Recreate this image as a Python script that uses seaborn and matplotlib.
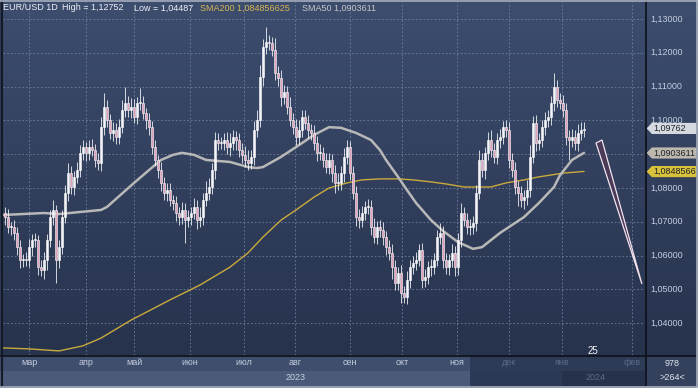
import numpy as np
import pandas as pd
import seaborn as sns
import matplotlib.pyplot as plt
import matplotlib.transforms as mtransforms
from matplotlib.patches import Rectangle, Polygon
from matplotlib.colors import LinearSegmentedColormap

# EUR/USD daily closes (one candle per position)
close = [
    1.0714, 1.0685, 1.0685, 1.0667, 1.0625, 1.0587, 1.0590, 1.0587, 1.0625, 1.0646,
    1.0646, 1.0566, 1.0557, 1.0587, 1.0646, 1.0714, 1.0735, 1.0587, 1.0625, 1.0714,
    1.0785, 1.0844, 1.0803, 1.0833, 1.0853, 1.0904, 1.0921, 1.0904, 1.0921, 1.0912,
    1.0883, 1.0874, 1.0980, 1.1040, 1.1001, 1.0963, 1.0972, 1.0951, 1.0980, 1.1031,
    1.1051, 1.1031, 1.1040, 1.1010, 1.1051, 1.1051, 1.1022, 1.1001, 1.0980, 1.0921,
    1.0883, 1.0853, 1.0815, 1.0785, 1.0794, 1.0764, 1.0756, 1.0726, 1.0714, 1.0735,
    1.0705, 1.0714, 1.0726, 1.0744, 1.0705, 1.0714, 1.0764, 1.0785, 1.0803, 1.0853,
    1.0942, 1.0933, 1.0933, 1.0942, 1.0921, 1.0933, 1.0951, 1.0942, 1.0912, 1.0898,
    1.0883, 1.0874, 1.0892, 1.0972, 1.1001, 1.1128, 1.1217, 1.1232, 1.1229, 1.1208,
    1.1140, 1.1125, 1.1069, 1.1084, 1.1040, 1.1001, 1.0980, 1.0951, 1.0972, 1.1010,
    1.0992, 1.0972, 1.0963, 1.0933, 1.0904, 1.0904, 1.0883, 1.0862, 1.0883, 1.0844,
    1.0815, 1.0815, 1.0844, 1.0892, 1.0921, 1.0844, 1.0785, 1.0714, 1.0705, 1.0726,
    1.0744, 1.0744, 1.0685, 1.0655, 1.0685, 1.0676, 1.0655, 1.0625, 1.0608, 1.0566,
    1.0519, 1.0549, 1.0489, 1.0478, 1.0528, 1.0566, 1.0578, 1.0587, 1.0617, 1.0528,
    1.0537, 1.0566, 1.0566, 1.0587, 1.0655, 1.0667, 1.0587, 1.0566, 1.0587, 1.0608,
    1.0566, 1.0646, 1.0726, 1.0705, 1.0685, 1.0685, 1.0696, 1.0785, 1.0883, 1.0853,
    1.0904, 1.0942, 1.0912, 1.0892, 1.0942, 1.0951, 1.0980, 1.0972, 1.0883, 1.0853,
    1.0803, 1.0785, 1.0764, 1.0773, 1.0794, 1.0892, 1.0992, 1.0933, 1.0942, 1.0980,
    1.1001, 1.1010, 1.1051, 1.1099, 1.1060, 1.1051, 1.1031, 1.0951, 1.0942, 1.0951,
    1.0933, 1.0963, 1.0972, 1.0976,
]
first_open = 1.0725

# wick lengths beyond the body, in pips
wick_hi = [
    20, 25, 15, 20, 18, 22, 15, 20, 25, 18, 22, 15, 20, 25, 18, 20, 30, 15, 20, 22,
    25, 30, 20, 18, 25, 22, 20, 15, 20, 25, 18, 22, 30, 40, 20, 18, 22, 20, 25, 30,
    48, 20, 25, 22, 18, 45, 20, 15, 22, 18, 20, 15, 25, 18, 20, 22, 15, 20, 18, 25,
    20, 22, 18, 25, 20, 30, 22, 35, 28, 20, 25, 22, 18, 20, 25, 30, 20, 18, 22, 20,
    25, 30, 20, 25, 30, 35, 25, 43, 20, 18, 35, 20, 25, 22, 18, 30, 20, 25, 30, 22,
    20, 25, 18, 22, 20, 25, 18, 22, 20, 18, 25, 30, 20, 25, 21, 18, 20, 22, 25, 20,
    18, 22, 20, 25, 18, 20, 22, 18, 20, 25, 20, 18, 22, 20, 25, 22, 20, 25, 18, 20,
    22, 18, 25, 20, 22, 30, 20, 22, 18, 25, 20, 22, 30, 18, 20, 22, 20, 25, 30, 20,
    18, 25, 30, 20, 22, 25, 18, 20, 22, 20, 25, 18, 22, 20, 30, 35, 20, 25, 22, 20,
    25, 22, 20, 41, 20, 22, 25, 20, 22, 25, 20, 25, 22, 20,
]
wick_lo = [
    22, 18, 25, 20, 22, 25, 20, 18, 22, 25, 20, 22, 18, 25, 30, 20, 22, 68, 25, 20,
    18, 22, 20, 25, 18, 20, 22, 25, 20, 18, 22, 20, 25, 22, 20, 18, 25, 22, 20, 18,
    22, 20, 25, 18, 22, 20, 18, 25, 22, 20, 18, 22, 25, 20, 22, 18, 20, 25, 22, 20,
    68, 20, 22, 18, 25, 20, 22, 18, 20, 22, 25, 20, 18, 22, 20, 25, 22, 30, 20, 25,
    22, 20, 18, 25, 22, 20, 25, 20, 22, 18, 20, 22, 25, 20, 22, 18, 20, 25, 22, 20,
    18, 25, 22, 20, 25, 22, 20, 18, 22, 25, 30, 22, 20, 25, 22, 20, 18, 25, 22, 20,
    22, 20, 25, 18, 22, 20, 25, 22, 20, 35, 22, 20, 29, 18, 22, 25, 20, 22, 18, 25,
    20, 22, 25, 20, 18, 22, 25, 20, 22, 20, 25, 22, 20, 18, 22, 25, 20, 22, 18, 20,
    25, 22, 20, 18, 22, 25, 20, 22, 25, 20, 22, 38, 20, 25, 22, 20, 18, 25, 22, 20,
    22, 20, 25, 22, 20, 18, 22, 25, 59, 22, 20, 25, 22, 20,
]

# moving averages (candle position, value)
sma50_x = [-1, 13, 18, 32, 34, 43, 48, 52, 56, 59, 63, 67, 75, 81, 84, 86, 92, 97, 103, 108,
           112, 117, 122, 125, 127, 131, 134, 137, 142, 146, 151, 156, 159, 165, 173, 178,
           183, 185, 189, 193]
sma50_y = [1.0720, 1.0726, 1.0723, 1.0735, 1.0744, 1.0815, 1.0853, 1.0883, 1.0898, 1.0904,
           1.0898, 1.0883, 1.0877, 1.0862, 1.0859, 1.0862, 1.0892, 1.0921, 1.0957, 1.0980,
           1.0978, 1.0963, 1.0942, 1.0912, 1.0883, 1.0833, 1.0794, 1.0756, 1.0705, 1.0673,
           1.0640, 1.0620, 1.0625, 1.0667, 1.0714, 1.0756, 1.0803, 1.0838, 1.0883, 1.0904]
sma200_x = [-1, 8, 18, 26, 32, 42, 55, 65, 75, 81, 86, 92, 97, 103, 108, 114, 119, 125, 131,
            136, 142, 147, 153, 162, 167, 173, 178, 186, 193]
sma200_y = [1.0327, 1.0324, 1.0318, 1.0333, 1.0356, 1.0409, 1.0469, 1.0513, 1.0566, 1.0608,
            1.0655, 1.0705, 1.0735, 1.0773, 1.0800, 1.0815, 1.0824, 1.0827, 1.0827, 1.0824,
            1.0818, 1.0812, 1.0803, 1.0803, 1.0815, 1.0824, 1.0833, 1.0844, 1.0849]

month_labels = ['мар', 'апр', 'май', 'июн', 'июл', 'авг', 'сен', 'окт', 'ноя', 'дек', 'янв', 'фев']
month_pos = [8, 27, 43, 61.7, 79.7, 96.7, 115, 132.3, 150.7, 168, 185.7, 209]
year_labels = ['2023', '2024']
year_pos = [96.7, 196.7]
# 1,09000 sits under the SMA50 tag in the original, so it is not printed
price_levels = [1.04, 1.05, 1.06, 1.07, 1.08, 1.09, 1.10, 1.11, 1.12, 1.13]
hidden_levels = [1.09]

last_close = 1.09762
sma50_last = 1.0903611
sma200_last = 1.084856625
high_val = 1.12752
low_val = 1.04487

# hand-drawn pen stroke on the right
pen_x = [197, 199, 212.3]
pen_y = [1.0933, 1.0942, 1.0516]

# ---- frame ----
W, H = 698, 388
sns.set_theme(style="dark")
plt.rcParams['font.family'] = ['Liberation Sans', 'DejaVu Sans']

fig = plt.figure(figsize=(W / 100, H / 100), dpi=100)
fig.patch.set_facecolor('#2e3b57')

xlim = (-0.67, 213.33)
ylim = (1.03059, 1.13503)
bg_cmap = LinearSegmentedColormap.from_list('bg', ['#3d4d6e', '#27334d'])
grad = np.linspace(0, 1, 256).reshape(-1, 1)

ax = fig.add_axes([3 / W, 33 / H, 642 / W, 353 / H])
ax.imshow(grad, cmap=bg_cmap, extent=[xlim[0], xlim[1], ylim[0], ylim[1]],
          aspect='auto', origin='upper', zorder=0)
ax.set_xlim(*xlim)
ax.set_ylim(*ylim)

df = pd.DataFrame({'close': close, 'whi': wick_hi, 'wlo': wick_lo})
df['open'] = df['close'].shift(1).fillna(first_open)
df['top'] = df[['open', 'close']].max(axis=1)
df['bot'] = df[['open', 'close']].min(axis=1)
df['high'] = df['top'] + df['whi'] / 10000
df['low'] = df['bot'] - df['wlo'] / 10000
df['x'] = np.arange(len(df))
up = df['close'] >= df['open']

ax.vlines(df['x'], df['low'], df['high'], color='white', lw=0.55, zorder=3)
ax.bar(df['x'][up], (df['top'] - df['bot'])[up].clip(lower=0.0002), bottom=df['bot'][up],
       width=0.55, color='#f4f4f8', edgecolor='white', linewidth=0.4, zorder=4)
ax.bar(df['x'][~up], (df['top'] - df['bot'])[~up].clip(lower=0.0002), bottom=df['bot'][~up],
       width=0.55, color='#e2a0ba', edgecolor='white', linewidth=0.4, zorder=4)

sns.lineplot(x=sma200_x, y=sma200_y, ax=ax, color='#c9aa3c', lw=1.0, zorder=2)
sns.lineplot(x=sma50_x, y=sma50_y, ax=ax, color='#b8b8b8', lw=1.8, zorder=2,
             solid_capstyle='round')

ax.add_patch(Polygon(list(zip(pen_x, pen_y)), closed=True, facecolor='#4a3a58',
                     edgecolor='#f2e2ee', lw=0.9, zorder=5))

ax.set_xticks(month_pos)
ax.set_xticklabels(month_labels)
ax.set_yticks(price_levels)
ax.set_yticklabels([])
ax.tick_params(axis='x', length=0, pad=2.5, labelsize=6.5)
ax.tick_params(axis='y', length=0)
for lab, pos in zip(ax.get_xticklabels(), month_pos):
    lab.set_color('#c4cde0' if pos < 160 else '#5b6a88')
ax.grid(True, color='#7c8bab', lw=0.6, linestyle=(0, (2, 2.5)), alpha=0.85)
ax.set_axisbelow(True)
for s in ax.spines.values():
    s.set_visible(False)
ax.set_xlabel('')
ax.set_ylabel('')

trans = mtransforms.blended_transform_factory(ax.transData, ax.transAxes)
for lab, pos, col in zip(year_labels, year_pos, ['#c4cde0', '#5b6a88']):
    ax.text(pos, -0.065, lab, transform=trans, ha='center', va='center',
            fontsize=6.5, color=col, clip_on=False)

# ---- right price scale ----
axr = fig.add_axes([645 / W, 33 / H, 53 / W, 353 / H])
axr.imshow(grad, cmap=bg_cmap, extent=[0, 1, ylim[0], ylim[1]],
           aspect='auto', origin='upper', zorder=0)
axr.set_xlim(0, 1)
axr.set_ylim(*ylim)
axr.axis('off')
for lv in price_levels:
    if lv in hidden_levels:
        continue
    axr.text(0.10, lv, f'{lv:.5f}'.replace('.', ','), fontsize=6.5, color='#c4cde0',
             va='center', ha='left', zorder=2)

tags = [(last_close, '1,09762', '#d5d9e0'),
        (sma50_last, '1,0903611', '#bdb7ad'),
        (sma200_last, '1,0848566', '#d8c23c')]
h = 0.00165
for val, txt, col in tags:
    axr.add_patch(Polygon([(0.03, val), (0.13, val + h), (0.97, val + h),
                           (0.97, val - h), (0.13, val - h)], closed=True,
                          facecolor=col, edgecolor='none', zorder=3))
    axr.text(0.15, val, txt, fontsize=6.5, color='#1e222a', va='center', ha='left',
             zorder=4, clip_on=True)

# ---- pixel-coordinate layers: bottom bar, header, borders ----
px = fig.add_axes([0, 0, 1, 1], facecolor='none')
px.set_xlim(0, W)
px.set_ylim(H, 0)
px.axis('off')
px.set_zorder(-1)

for (x0, y0, w, hgt, col) in [(0, 355, 470, 16, '#3f4e6c'), (0, 371, 470, 15, '#4b5a78'),
                              (470, 355, 175, 16, '#2e3b57'), (470, 371, 92, 15, '#2c3955'),
                              (562, 371, 83, 15, '#26324c'), (645, 355, 53, 31, '#33415d')]:
    px.add_patch(Rectangle((x0, y0), w, hgt, facecolor=col, edgecolor='none'))

top = fig.add_axes([0, 0, 1, 1], facecolor='none')
top.set_xlim(0, W)
top.set_ylim(H, 0)
top.axis('off')
top.hlines(355.5, 0, W, color='#0c1018', lw=1.2)
top.vlines(645.5, 0, 386, color='#0c1018', lw=1.2)
top.vlines(1.5, 0, 386, color='#141a26', lw=1.5)
top.hlines([0.5, 387], 0, W, color='#a9b1c2', lw=1.2)
top.vlines(697.3, 0, H, color='#a9b1c2', lw=1.2)

hdr = dict(fontsize=6.5, va='center')
top.text(3, 8, 'EUR/USD 1D', color='#eef0f6', **hdr)
top.text(62, 8, 'High = 1,12752', color='#eef0f6', **hdr)
top.text(134, 8, 'Low = 1,04487', color='#eef0f6', **hdr)
top.text(200, 8, 'SMA200 1,084856625', color='#d8b656', **hdr)
top.text(302, 8, 'SMA50 1,0903611', color='#c8c8c8', **hdr)
top.text(593, 351, '25', fontsize=7, color='#f2f2f2', ha='center', va='center')
top.text(672, 363, '978', fontsize=6.5, color='#e2e6ee', ha='center', va='center')
top.text(672, 378, '>264<', fontsize=6.5, color='#e2e6ee', ha='center', va='center')

fig.savefig('out.png', dpi=100, facecolor=fig.get_facecolor())
